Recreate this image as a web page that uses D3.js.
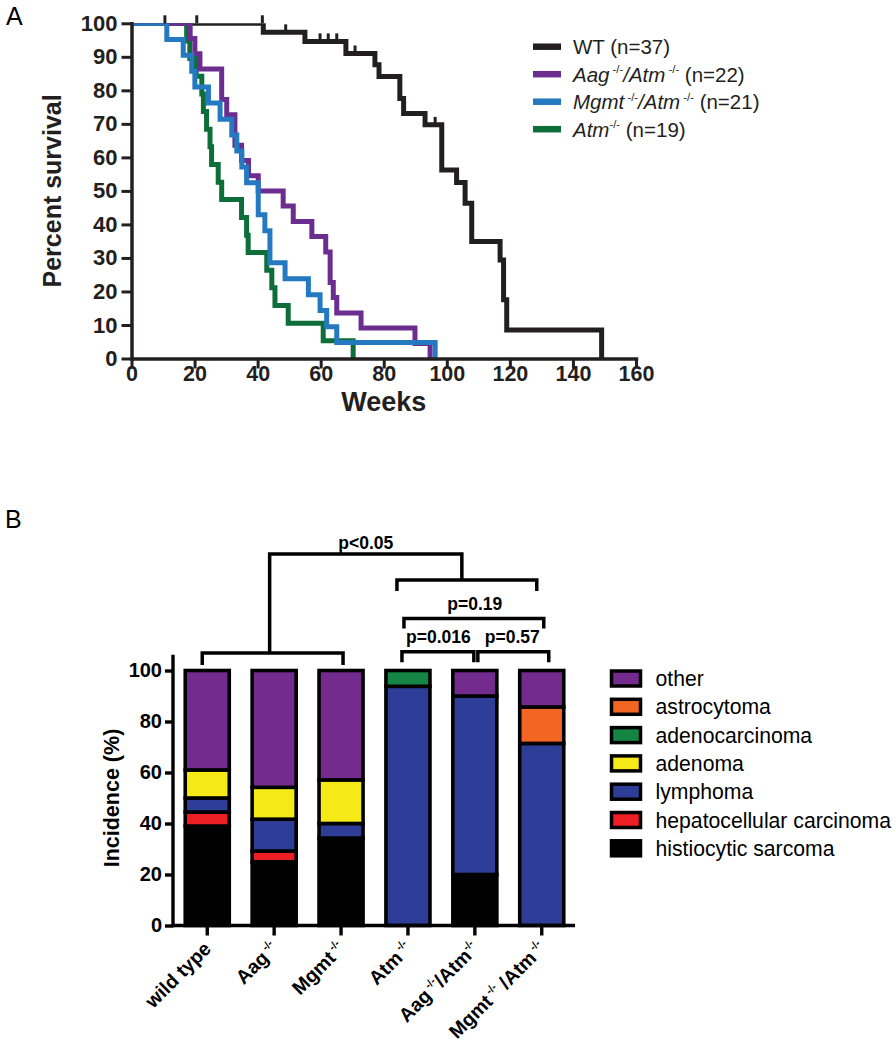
<!DOCTYPE html>
<html><head><meta charset="utf-8">
<script src="https://cdn.jsdelivr.net/npm/d3@7"></script>
<style>
body{margin:0;background:#fff}
svg{display:block}
text{font-family:"Liberation Sans",Arial,Helvetica,sans-serif}
</style>
</head><body>
<svg id="c" width="896" height="1050"></svg>
<script>
// ---------------- Panel A data (Kaplan-Meier) ----------------
const weekTicks = [0, 20, 40, 60, 80, 100, 120, 140, 160];
const survTicks = [0, 10, 20, 30, 40, 50, 60, 70, 80, 90, 100];

const wtWeeks = [0, 41.8, 55, 68, 77.2, 78.5, 85.1, 86.3, 93.1, 98.4, 103.1, 105.8, 107.9, 116.9, 118, 119, 149.1];
const wtSurv  = [100, 97.3, 94.6, 91.0, 87.6, 84.1, 77.6, 73.1, 69.7, 56.2, 52.5, 46.3, 34.9, 29.4, 17.5, 8.5, 0];
const wtCensorWeeks = [10.6, 20.7, 41.5, 48.9, 59.8, 62.4, 65.1, 70.9, 96.3];

const aagAtmWeeks = [0, 18.6, 20.1, 21.7, 28.6, 30.2, 32.8, 34.9, 37.1, 40.2, 48.1, 51.3, 57.2, 61.6, 63, 64, 65.1, 72.8, 89.9, 94.7];
const aagAtmSurv  = [100, 95.5, 90.9, 86.4, 77.3, 72.7, 63.6, 59.1, 54.5, 50, 45.5, 40.9, 36.4, 31.8, 22.7, 18.2, 13.6, 9.1, 4.5, 0];

const mgmtAtmWeeks = [0, 11.2, 16.4, 19.1, 20.1, 24.4, 28.1, 31.8, 33.4, 35, 36.5, 40.2, 42.3, 43.9, 48.7, 56.1, 59.8, 61.9, 65.1, 96.3];
const mgmtAtmSurv  = [100, 95.2, 90.5, 85.7, 81, 76.2, 71.4, 66.7, 61.9, 57.1, 52.4, 42.9, 38.1, 28.6, 23.8, 19, 14.3, 9.5, 4.8, 0];

const atmWeeks = [0, 17.5, 18.5, 20.5, 22.3, 22.8, 23.8, 24.9, 25.4, 27.5, 28.6, 34.9, 36.5, 37, 42.9, 44.5, 45.5, 49.7, 60.8, 70.3];
const atmSurv  = [100, 94.7, 89.5, 84.2, 78.9, 73.7, 68.4, 63.2, 57.9, 52.6, 47.4, 42.1, 36.8, 31.6, 26.3, 21.1, 15.8, 10.5, 5.3, 0];

const seriesNames = ["WT", "Aag/Atm", "Mgmt/Atm", "Atm"];
const seriesColors = ["#231f20", "#6c2d91", "#2479c1", "#0d6e3a"];
// legend label parts: [text, style] style: 0 normal, 1 italic, 2 superscript
const legendA = [
  [["WT (n=37)", 0]],
  [["Aag", 1], [" -/-", 2], ["/Atm", 1], [" -/-", 2], [" (n=22)", 0]],
  [["Mgmt", 1], [" -/-", 2], ["/Atm", 1], [" -/-", 2], [" (n=21)", 0]],
  [["Atm", 1], ["-/-", 2], [" (n=19)", 0]]
];

// ---------------- Panel B data (tumor incidence %) ----------------
const categories = ["wild type", "Aag", "Mgmt", "Atm", "Aag/Atm", "Mgmt/Atm"];
const incidenceTicks = [0, 20, 40, 60, 80, 100];
const tumorTypes = ["histiocytic sarcoma", "hepatocellular carcinoma", "lymphoma", "adenoma", "adenocarcinoma", "astrocytoma", "other"];
const histiocytic    = [39, 25, 34.3, 0, 20, 0];
const hepatocellular = [5.5, 4.2, 0, 0, 0, 0];
const lymphoma       = [5.5, 12.5, 5.7, 93.8, 70, 71.4];
const adenoma        = [11, 12.5, 17.1, 0, 0, 0];
const adenocarcinoma = [0, 0, 0, 6.2, 0, 0];
const astrocytoma    = [0, 0, 0, 0, 0, 14.3];
const other          = [39, 45.8, 42.9, 0, 10, 14.3];
const tumorColors = ["#000000", "#ed1f24", "#2e3e98", "#f5ea17", "#158544", "#f26522", "#732b8d"];
const xLabelParts = [
  [["wild type", 0]],
  [["Aag", 0], [" -/-", 2]],
  [["Mgmt", 0], [" -/-", 2]],
  [["Atm", 0], [" -/-", 2]],
  [["Aag", 0], [" -/-", 2], ["/Atm", 0], ["-/-", 2]],
  [["Mgmt", 0], [" -/-", 2], [" /Atm", 0], [" -/-", 2]]
];
const pLabels = ["p<0.05", "p=0.19", "p=0.016", "p=0.57"];

// ---------------- drawing ----------------
const svg = d3.select("#c");
const FONT = '"Liberation Sans",Arial,Helvetica,sans-serif';

function addParts(textSel, parts, size) {
  parts.forEach(([t, s]) => {
    const ts = textSel.append("tspan").text(t);
    if (s === 1) ts.attr("font-style", "italic");
    if (s === 2) {
      ts.attr("font-size", size * 0.55).attr("dy", -size * 0.42);
    }
  });
  const spans = textSel.selectAll("tspan").nodes();
  for (let i = 1; i < spans.length; i++) {
    const prevSup = parts[i - 1][1] === 2, curSup = parts[i][1] === 2;
    if (prevSup && !curSup) d3.select(spans[i]).attr("dy", size * 0.42);
  }
}

// Panel labels
svg.append("text").attr("x", 6).attr("y", 25).attr("font-size", 25).text("A");
svg.append("text").attr("x", 5).attr("y", 528).attr("font-size", 25).text("B");

// ---- Panel A ----
const xA = d3.scaleLinear().domain([0, 160]).range([131.5, 636]);
const yA = d3.scaleLinear().domain([0, 100]).range([358.5, 23.3]);

svg.append("clipPath").attr("id", "clipA").append("rect")
  .attr("x", xA(0)).attr("y", yA(100)).attr("width", xA(160) - xA(0) + 10).attr("height", yA(0) - yA(100) + 10);

const stepLine = d3.line().x(d => xA(d[0])).y(d => yA(d[1])).curve(d3.curveStepAfter);
const curves = [
  [wtWeeks, wtSurv],
  [aagAtmWeeks, aagAtmSurv],
  [mgmtAtmWeeks, mgmtAtmSurv],
  [atmWeeks, atmSurv]
];
const drawOrder = [0, 3, 1, 2];
const gCurves = svg.append("g").attr("clip-path", "url(#clipA)");
drawOrder.forEach(i => {
  const [w, s] = curves[i];
  const pts = w.map((t, k) => [t, s[k]]);
  gCurves.append("path").attr("d", stepLine(pts))
    .attr("fill", "none").attr("stroke", seriesColors[i]).attr("stroke-width", 5)
    .attr("stroke-linejoin", "miter");
});
function survAt(weeks, surv, t) {
  let v = surv[0];
  for (let k = 0; k < weeks.length; k++) if (weeks[k] <= t) v = surv[k];
  return v;
}
wtCensorWeeks.forEach(t => {
  const yy = yA(survAt(wtWeeks, wtSurv, t));
  svg.append("line").attr("x1", xA(t)).attr("x2", xA(t)).attr("y1", yy - 8).attr("y2", yy)
    .attr("stroke", seriesColors[0]).attr("stroke-width", 3);
});

// Axes A
const axYA = svg.append("g").attr("transform", `translate(${xA(0)},0)`)
  .call(d3.axisLeft(yA).tickValues(survTicks).tickSize(10).tickSizeOuter(0).tickPadding(4));
const axXA = svg.append("g").attr("transform", `translate(0,${yA(0)})`)
  .call(d3.axisBottom(xA).tickValues(weekTicks).tickSize(10).tickSizeOuter(0).tickPadding(4));
[axYA, axXA].forEach(g => {
  g.select(".domain").attr("stroke", "#231f20").attr("stroke-width", 3.5).attr("stroke-linecap", "square");
  g.selectAll(".tick line").attr("stroke", "#231f20").attr("stroke-width", 3);
  g.selectAll(".tick text").attr("fill", "#231f20").attr("font-family", FONT).attr("font-weight", "bold").attr("font-size", 22);
});
axXA.selectAll(".tick text").attr("y", 22).attr("dy", null).attr("font-size", 21.5);
svg.append("text").attr("transform", `translate(61,${(yA(0) + yA(100)) / 2}) rotate(-90)`)
  .attr("text-anchor", "middle").attr("font-weight", "bold").attr("font-size", 25).attr("fill", "#231f20")
  .text("Percent survival");
svg.append("text").attr("x", (xA(0) + xA(160)) / 2).attr("y", 410.5)
  .attr("text-anchor", "middle").attr("font-weight", "bold").attr("font-size", 27).attr("fill", "#231f20")
  .text("Weeks");

// Legend A
legendA.forEach((parts, i) => {
  const cy = 46.7 + i * 27.5;
  svg.append("line").attr("x1", 533).attr("x2", 561).attr("y1", cy).attr("y2", cy)
    .attr("stroke", seriesColors[i]).attr("stroke-width", 6.5);
  const t = svg.append("text").attr("x", 573).attr("y", cy + 7.5).attr("font-size", 20.5).attr("fill", "#231f20");
  addParts(t, parts, 20.5);
});

// ---- Panel B ----
const xB = d3.scaleBand().domain(categories).range([173.8, 575.2]).paddingInner(0.342).paddingOuter(0.171);
const yB = d3.scaleLinear().domain([0, 100]).range([925.5, 670.5]);

const rows = categories.map((c, i) => ({
  cat: c,
  "histiocytic sarcoma": histiocytic[i],
  "hepatocellular carcinoma": hepatocellular[i],
  "lymphoma": lymphoma[i],
  "adenoma": adenoma[i],
  "adenocarcinoma": adenocarcinoma[i],
  "astrocytoma": astrocytoma[i],
  "other": other[i]
}));
const stacked = d3.stack().keys(tumorTypes)(rows);
const colorB = d3.scaleOrdinal().domain(tumorTypes).range(tumorColors);

const gBars = svg.append("g");
stacked.forEach(layer => {
  gBars.selectAll(null).data(layer.filter(d => d[1] - d[0] > 0)).enter().append("rect")
    .attr("x", d => xB(d.data.cat))
    .attr("y", d => yB(d[1]))
    .attr("width", xB.bandwidth())
    .attr("height", d => yB(d[0]) - yB(d[1]))
    .attr("fill", colorB(layer.key))
    .attr("stroke", "#000").attr("stroke-width", 3.6);
});

// Axes B
const axYB = svg.append("g").attr("transform", `translate(173,0)`)
  .call(d3.axisLeft(yB).tickValues(incidenceTicks).tickSize(8).tickSizeOuter(0).tickPadding(3));
axYB.select(".domain").remove();
axYB.append("line").attr("x1", 0).attr("x2", 0).attr("y1", yB(0)).attr("y2", 656.5)
  .attr("stroke", "#000").attr("stroke-width", 3.4).attr("stroke-linecap", "square");
axYB.selectAll(".tick line").attr("stroke", "#000").attr("stroke-width", 3.4);
axYB.selectAll(".tick text").attr("fill", "#000").attr("font-family", FONT).attr("font-weight", "bold").attr("font-size", 20);

const axXB = svg.append("g").attr("transform", `translate(0,${yB(0)})`)
  .call(d3.axisBottom(xB).tickSize(10).tickSizeOuter(0).tickFormat(""));
axXB.select(".domain").remove();
axXB.append("line").attr("x1", 173).attr("x2", 575).attr("y1", 0).attr("y2", 0)
  .attr("stroke", "#000").attr("stroke-width", 3.4);
axXB.selectAll(".tick line").attr("stroke", "#000").attr("stroke-width", 3.4);

// rotated x labels
categories.forEach((c, i) => {
  const cx = xB(c) + xB.bandwidth() / 2;
  const t = svg.append("text")
    .attr("transform", `translate(${cx + 5},${950}) rotate(-45)`)
    .attr("text-anchor", "end").attr("font-weight", "bold").attr("font-size", 19.5).attr("fill", "#000");
  addParts(t, xLabelParts[i], 19.5);
});

svg.append("text").attr("transform", `translate(119,${(yB(0) + yB(100)) / 2 + 0}) rotate(-90)`)
  .attr("text-anchor", "middle").attr("font-weight", "bold").attr("font-size", 21.5).attr("fill", "#000")
  .text("Incidence (%)");

// Significance brackets
const bc = i => xB(categories[i]) + xB.bandwidth() / 2;
const gBr = svg.append("g").attr("fill", "none").attr("stroke", "#000").attr("stroke-width", 3.5);
function bracket(x1, x2, y, legDown) {
  gBr.append("path").attr("d", `M${x1},${y + legDown}V${y}H${x2}V${y + legDown}`);
}
bracket(bc(0) - 5, bc(2) + 2, 653, 12);
bracket(bc(3) - 11, bc(5) - 5, 580, 11);
const leftMid = (bc(0) - 5 + bc(2) + 2) / 2 - 3;
const rightMid = (bc(3) - 11 + bc(5) - 5) / 2 - 5;
gBr.append("path").attr("d", `M${leftMid},653V554H${rightMid}V580`);
bracket(bc(3) - 4, bc(5) + 2, 618.5, 10);
bracket(bc(3) - 6, bc(4) - 1, 651.7, 10.5);
bracket(bc(4) + 3, bc(5) + 7, 651.7, 10.5);

const pt = (x, y, s) => svg.append("text").attr("x", x).attr("y", y).attr("text-anchor", "middle")
  .attr("font-weight", "bold").attr("font-size", 17.5).attr("fill", "#000").text(s);
pt((leftMid + rightMid) / 2, 549, pLabels[0]);
pt((bc(3) + bc(5)) / 2, 609.5, pLabels[1]);
pt((bc(3) + bc(4)) / 2 - 3, 643, pLabels[2]);
pt((bc(4) + bc(5)) / 2 + 4, 643, pLabels[3]);

// Legend B
const legendOrder = tumorTypes.slice().reverse();
legendOrder.forEach((k, i) => {
  const cy = 678.5 + i * 28.3;
  svg.append("rect").attr("x", 611.5).attr("y", cy - 7.5).attr("width", 29).attr("height", 15)
    .attr("fill", colorB(k)).attr("stroke", "#000").attr("stroke-width", 3.5);
  svg.append("text").attr("x", 655.5).attr("y", cy + 7.5).attr("font-size", 21.2).attr("fill", "#000").text(k);
});
</script>
</body></html>
